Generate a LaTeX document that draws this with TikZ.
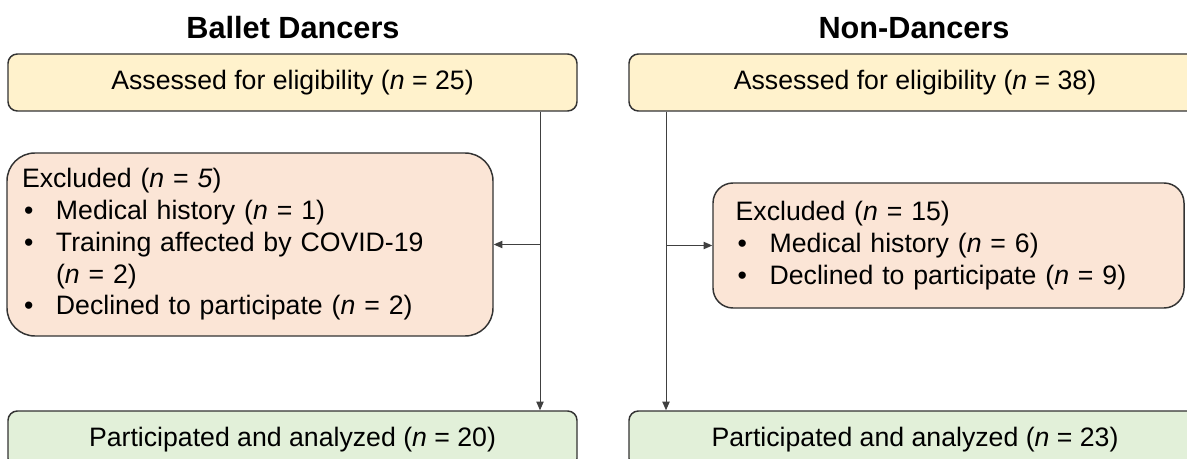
\documentclass[tikz,border=0pt]{standalone}
\usepackage{fontspec}
\setmainfont{Liberation Sans}
\usetikzlibrary{arrows.meta}
\definecolor{yelfill}{HTML}{FFF2CC}
\definecolor{redfill}{HTML}{FBE5D6}
\definecolor{grnfill}{HTML}{E2F0D9}
\definecolor{boxline}{HTML}{333333}
\definecolor{conline}{HTML}{404040}
\newcommand{\bul}{\makebox[25.5pt][l]{\hspace{1.5pt}•}}
\newcommand{\nn}{\textit{n}}
\begin{document}
\begin{tikzpicture}[x=0.75pt,y=-0.75pt,
  every node/.style={font=\fontsize{20}{23.8}\selectfont},
  boxbase/.style={draw=boxline,line width=1.1pt,inner sep=0pt},
  topbox/.style={boxbase,fill=yelfill,rounded corners=7pt,minimum height=42.75pt},
  botbox/.style={boxbase,fill=grnfill,rounded corners=7pt,minimum height=42.75pt},
  exbox/.style={boxbase,fill=redfill,align=left,inner xsep=11.25pt},
  title/.style={font=\fontsize{23}{27}\selectfont\bfseries},
  conn/.style={draw=conline,line width=0.75pt,-{Triangle[length=6.5pt,width=5.5pt]}}]
\clip (0,0) rectangle (1187,459);
\fill[white] (0,0) rectangle (1187,459);

\node[title] (t1) at (293,28) {Ballet Dancers};
\node[title] (t2) at (914,28) {Non-Dancers};

\node[topbox,minimum width=426.75pt] (tl) at (292.5,82.5) {Assessed for eligibility (\nn{} = 25)};
\node[topbox,minimum width=429pt] (tr) at (915,82.5) {Assessed for eligibility (\nn{} = 38)};

\node[exbox,rounded corners=21pt,text width=342pt,minimum height=137.25pt] (el) at (250,244.5)
 {Excluded (\nn{} = \textit{5})\\
  \bul Medical history (\nn{} = 1)\\
  \bul Training affected by COVID-19\\
  \hspace*{25.5pt}(\nn{} = 2)\\
  \bul Declined to participate (\nn{} = 2)};
\node[exbox,rounded corners=15pt,inner xsep=17pt,text width=319.25pt,minimum height=93.75pt] (er) at (948.5,245.5)
 {Excluded (\nn{} = 15)\\
  \bul Medical history (\nn{} = 6)\\
  \bul Declined to participate (\nn{} = 9)};

\node[botbox,minimum width=426.75pt] (bl) at (292.5,439.5) {Participated and analyzed (\nn{} = 20)};
\node[botbox,minimum width=429pt] (br) at (915,439.5) {Participated and analyzed (\nn{} = 23)};

\coordinate (lx) at (540,0);
\coordinate (rx) at (666,0);

\draw[conn] (tl.south -| lx) -- (bl.north -| lx);
\draw[conn] (el.east -| lx) -- (el.east);
\draw[conn] (tr.south -| rx) -- (br.north -| rx);
\draw[conn] (er.west -| rx) -- (er.west);
\end{tikzpicture}
\end{document}
